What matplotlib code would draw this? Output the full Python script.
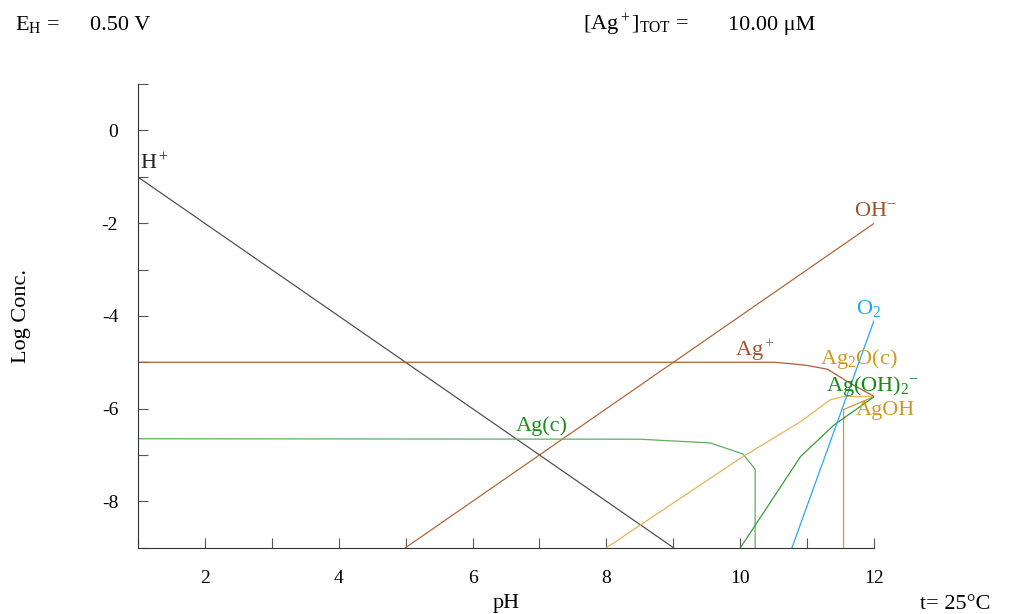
import matplotlib.pyplot as plt
from matplotlib.ticker import MultipleLocator

plt.rcParams['font.family'] = ['Liberation Serif', 'DejaVu Serif']
plt.rcParams['mathtext.fontset'] = 'custom'
plt.rcParams['mathtext.rm'] = 'Liberation Serif'
plt.rcParams['mathtext.it'] = 'Liberation Serif:italic'
plt.rcParams['axes.unicode_minus'] = False

# species curves (pH, log concentration)
h_ph = [1, 9]
h_log = [-1, -9]

oh_ph = [5, 12]
oh_log = [-9, -2]

ag_ph = [1, 10.5, 10.75, 11.0, 11.3, 11.6, 11.95, 12]
ag_log = [-5.0, -5.0, -5.03, -5.07, -5.15, -5.42, -5.70, -5.74]

agc_ph = [1, 8.5, 9.55, 10.04, 10.22, 10.22]
agc_log = [-6.65, -6.66, -6.74, -6.98, -7.31, -9]

agoh_ph = [8, 10, 10.9, 11.34, 11.54, 12]
agoh_log = [-9, -7.07, -6.28, -5.81, -5.74, -5.74]

ag2o_ph = [11.54, 11.54, 12]
ag2o_log = [-9, -6.02, -5.74]

agoh2_ph = [10, 10.9, 11.4, 12]
agoh2_log = [-9, -7.03, -6.35, -5.74]

o2_ph = [10.77, 12]
o2_log = [-9, -4.08]

fig = plt.figure(figsize=(10.12, 6.14), dpi=100)
ax = fig.add_axes([0.136, 0.108, 0.728, 0.755])

lw = 0.9
ax.plot(h_ph, h_log, color='#505050', lw=lw)
ax.plot(oh_ph, oh_log, color='#b0683a', lw=lw)
ax.plot(ag_ph, ag_log, color='#a8603a', lw=lw)
ax.plot(agc_ph, agc_log, color='#5cb05c', lw=lw)
ax.plot(agoh_ph, agoh_log, color='#e8b458', lw=lw)
ax.plot(ag2o_ph, ag2o_log, color='#d09a28', lw=lw)
ax.plot(agoh2_ph, agoh2_log, color='#3a9a3a', lw=lw)
ax.plot(o2_ph, o2_log, color='#28a8f0', lw=lw)

fs = 16
kw = dict(fontsize=fs, ha='left', va='baseline')
ax.text(1.03, -0.84, r'H$^+$', color='#222222', **kw)
ax.text(11.69, -1.85, r'OH$^{-}$', color='#a0522d', **kw)
ax.text(11.72, -3.96, r'O$_2$', color='#1aa6f0', **kw)
ax.text(9.92, -4.88, r'Ag$^+$', color='#a0522d', **kw)
ax.text(11.19, -5.03, r'Ag$_2$O(c)', color='#d09a20', **kw)
ax.text(11.28, -5.61, r'Ag(OH)$_2$$^{-}$', color='#138a13', **kw)
ax.text(11.72, -6.13, 'AgOH', color='#d09a20', **kw)
ax.text(6.65, -6.49, 'Ag(c)', color='#1e8c1e', **kw)

ax.set_xlim(1, 12)
ax.set_ylim(-9, 1)
ax.xaxis.set_major_locator(MultipleLocator(2))
ax.xaxis.set_minor_locator(MultipleLocator(1))
ax.yaxis.set_major_locator(MultipleLocator(2))
ax.yaxis.set_minor_locator(MultipleLocator(1))
ax.tick_params(which='both', direction='in', length=7, width=0.8, color='#555555',
               labelsize=14)
ax.tick_params(axis='x', pad=16)
ax.tick_params(axis='y', pad=14)
for side in ['top', 'right']:
    ax.spines[side].set_visible(False)
for side in ['left', 'bottom']:
    ax.spines[side].set_color('#333333')
    ax.spines[side].set_linewidth(0.8)

ax.set_xlabel('pH', fontsize=fs, labelpad=5)
ax.set_ylabel('Log Conc.', fontsize=fs, labelpad=51)

hk = dict(fontsize=fs, ha='left', va='baseline')
fig.text(15 / 1012, 1 - 30 / 614, r'E$_\mathrm{H}$ =', **hk)
fig.text(90 / 1012, 1 - 30 / 614, '0.50 V', **hk)
fig.text(583 / 1012, 1 - 30 / 614, r'[Ag$^+$]$_\mathrm{TOT}$ =', **hk)
fig.text(728 / 1012, 1 - 30 / 614, '10.00 μM', **hk)
fig.text(920 / 1012, 1 - 609 / 614, 't= 25°C', **hk)

fig.savefig('out.png', dpi=100)
